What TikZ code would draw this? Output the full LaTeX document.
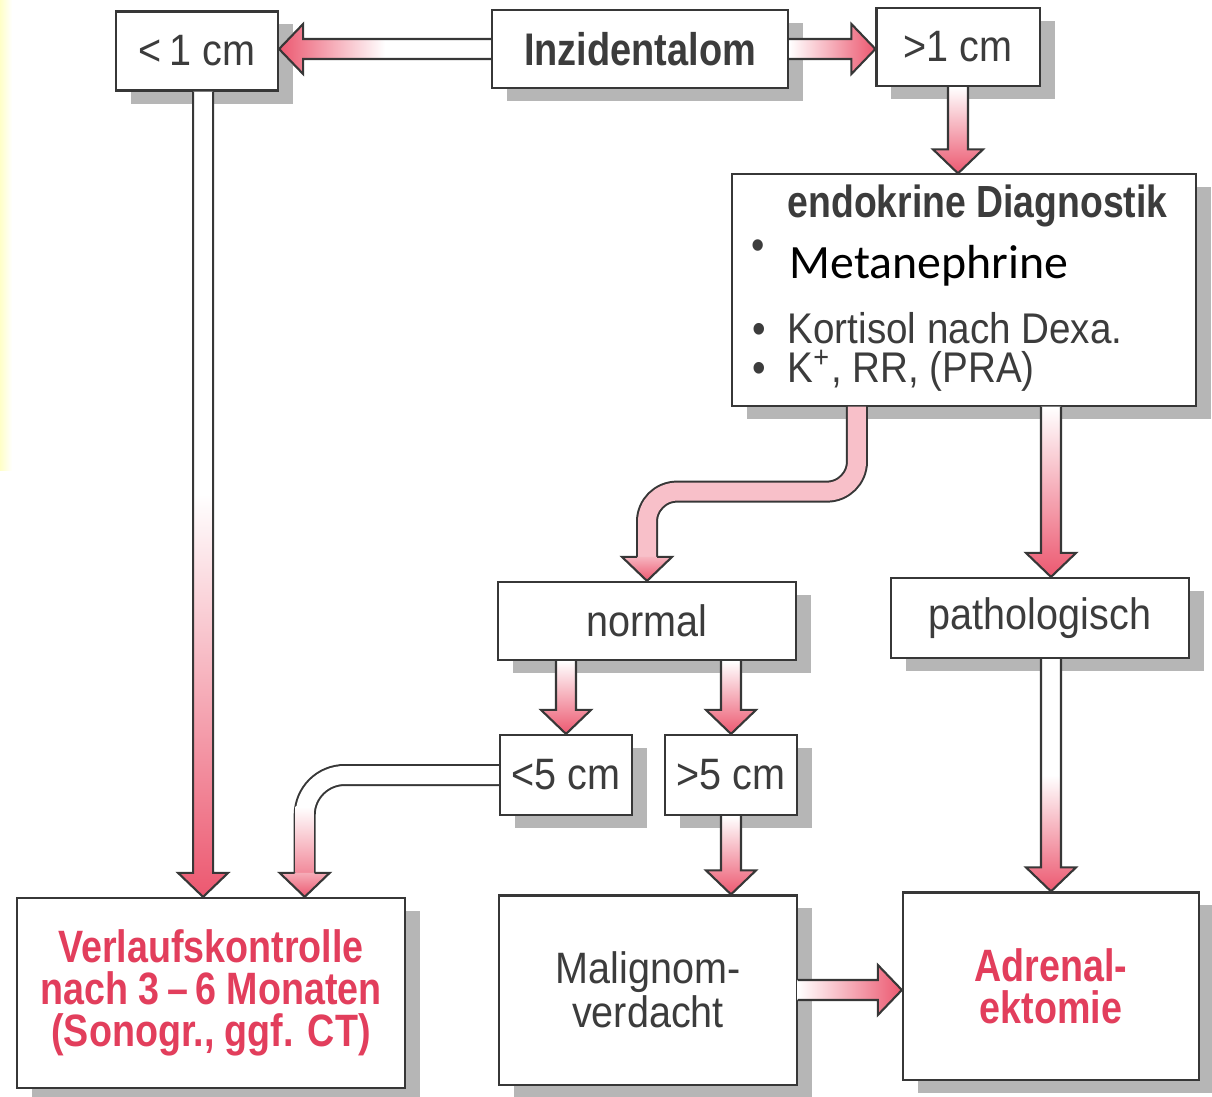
\documentclass[tikz,border=0pt]{standalone}
\usepackage{fontspec}
\setmainfont{Liberation Sans}[UprightFeatures={FakeStretch=0.9}, BoldFeatures={FakeStretch=0.83}]
\newfontfamily\calibfont{Carlito}
\usetikzlibrary{calc,shadows}

\definecolor{boxline}{RGB}{55,55,55}
\definecolor{txtgray}{RGB}{60,60,60}
\definecolor{txtred}{RGB}{226,62,92}
\definecolor{arrowred}{RGB}{236,88,112}
\definecolor{shadowgray}{RGB}{182,182,182}

\tikzset{
  box/.style={draw=boxline, line width=0.6pt, fill=white, inner sep=0pt,
    align=center, text=txtgray, font=\fontsize{12.5}{14}\selectfont,
    drop shadow={shadow xshift=0.15cm, shadow yshift=-0.13cm,
      fill=shadowgray, opacity=1}},
  redtext/.style={text=txtred, font=\fontsize{12.9}{12}\selectfont\bfseries},
  endotext/.style={anchor=base west, inner sep=0pt, text=txtgray, font=\fontsize{12.2}{14}\selectfont},
  fat/.style={draw=boxline, line width=0.6pt, line join=miter},
  tube/.style={line width=0.22cm, draw=boxline},
  tubein/.style={line width=0.18cm},
}

% fat arrow from #2 to #3, #1 = shading
\newcommand\fatarrow[3][]{%
  \coordinate (fa-a) at (#2);
  \coordinate (fa-b) at (#3);
  \coordinate (fa-c) at ($(fa-b)!0.24cm!(fa-a)$);
  \path[fat,#1] ($(fa-a)!0.1cm!90:(fa-b)$) -- ($(fa-c)!0.1cm!90:(fa-b)$)
    -- ($(fa-c)!0.25cm!90:(fa-b)$) -- (fa-b) -- ($(fa-c)!0.25cm!-90:(fa-b)$)
    -- ($(fa-c)!0.1cm!-90:(fa-b)$) -- ($(fa-a)!0.1cm!-90:(fa-b)$);
}
% head only, for the bent arrows
\newcommand\fathead[3][]{%
  \coordinate (fa-a) at (#2);
  \coordinate (fa-b) at (#3);
  \coordinate (fa-c) at ($(fa-b)!0.24cm!(fa-a)$);
  \path[fat,#1] ($(fa-c)!0.1cm!90:(fa-b)$) -- ($(fa-c)!0.25cm!90:(fa-b)$)
    -- (fa-b) -- ($(fa-c)!0.25cm!-90:(fa-b)$) -- ($(fa-c)!0.1cm!-90:(fa-b)$);
}

\begin{document}
\begin{tikzpicture}[x=0.01cm, y=-0.01cm]
  \useasboundingbox (0,0) rectangle (1212,1097);
  \shade[left color=yellow!22, right color=white] (0,0) rectangle (12,470);

  % boxes
  \node[box, minimum width=1.62cm, minimum height=0.79cm] (lt1) at (197,51) {<\,1 cm};
  \node[box, minimum width=2.96cm, minimum height=0.78cm, font=\fontsize{13}{14}\selectfont\bfseries] (inz) at (640,49) {Inzidentalom};
  \node[box, minimum width=1.63cm, minimum height=0.78cm] (gt1) at (958,47) {>1 cm};
  \node[box, minimum width=4.63cm, minimum height=2.31cm] (endo) at (964,290) {};
  \node[box, minimum width=2.98cm, minimum height=0.78cm] (norm) at (647,621) {normal};
  \node[box, minimum width=2.97cm, minimum height=0.80cm] (path) at (1040,618) {pathologisch};
  \node[box, minimum width=1.32cm, minimum height=0.80cm] (lt5) at (566,775) {<5 cm};
  \node[box, minimum width=1.32cm, minimum height=0.80cm] (gt5) at (731,775) {>5 cm};
  \node[box, minimum width=3.88cm, minimum height=1.90cm, redtext] (verl) at (211,993)
    {Verlaufskontrolle\\nach 3\,–\,6 Monaten\\(Sonogr., ggf. CT)};
  \node[box, minimum width=2.97cm, minimum height=1.89cm, font=\fontsize{12.5}{11.5}\selectfont] (malig) at (648,990)
    {Malignom-\\verdacht};
  \node[box, minimum width=2.96cm, minimum height=1.87cm, redtext] (adre) at (1051,986)
    {Adrenal-\\ektomie};

  % text in the endokrine box
  \node[endotext, font=\fontsize{12.8}{14}\selectfont\bfseries] (endoT) at (787,218) {endokrine Diagnostik};
  \node[text=txtgray, font=\fontsize{12}{14}\selectfont] (endoB) at (758,250) {•};
  \node[endotext, text=black, font=\calibfont\fontsize{13.6}{16}\selectfont] (endoM) at (789,278) {Metanephrine};
  \node[endotext, align=left, font=\fontsize{12.2}{11.1}\selectfont] (endoL) at (752,383)
    {\makebox[0.35cm][l]{•}Kortisol nach Dexa.\\\makebox[0.35cm][l]{•}K\textsuperscript{+}, RR, (PRA)};

  % straight arrows
  \coordinate (l0) at ($(lt1.south west)!0.537!(lt1.south east)$);
  \fatarrow[left color=arrowred, right color=white, middle color=white]{inz.west}{inz.west -| lt1.east}
  \fatarrow[left color=white, right color=arrowred]{inz.east}{inz.east -| gt1.west}
  \fatarrow[top color=white, bottom color=arrowred]{gt1.south}{gt1.south |- endo.north}
  \fatarrow[top color=white, bottom color=arrowred, middle color=white]{l0}{l0 |- verl.north}
  \fatarrow[top color=white, bottom color=arrowred]{adre.north |- endo.south}{adre.north |- path.north}
  \fatarrow[top color=white, bottom color=arrowred, middle color=white]{adre.north |- path.south}{adre.north}
  \fatarrow[top color=white, bottom color=arrowred]{lt5.north |- norm.south}{lt5.north}
  \fatarrow[top color=white, bottom color=arrowred]{gt5.north |- norm.south}{gt5.north}
  \fatarrow[top color=white, bottom color=arrowred]{gt5.south}{gt5.south |- malig.north}
  \fatarrow[left color=white, right color=arrowred]{malig.east}{malig.east -| adre.west}

  % bent arrow endokrine -> normal
  \coordinate (e0) at ($(endo.south west)!0.27!(endo.south east)$);
  \draw[tube, rounded corners=0.3cm, shorten >=0.24cm] (e0) -- ++(0,85) -| (norm.north);
  \draw[tubein, draw=arrowred!38, rounded corners=0.3cm, shorten >=0.24cm] (e0) -- ++(0,85) -| (norm.north);
  \fathead[top color=arrowred!45, bottom color=arrowred]{norm.north |- e0}{norm.north}

  % bent arrow <5 cm -> Verlaufskontrolle
  \coordinate (v0) at ($(verl.north west)!0.74!(verl.north east)$);
  \draw[tube, rounded corners=0.4cm, shorten >=0.24cm] (lt5.west) -| (v0);
  \draw[tubein, draw=white, rounded corners=0.4cm, shorten >=0.24cm] (lt5.west) -| (v0);
  \shade[top color=white, bottom color=arrowred!70] ($(v0)+(-9,-90)$) rectangle ($(v0)+(9,-24)$);
  \fathead[top color=arrowred!50, bottom color=arrowred]{v0 |- lt5.west}{v0}
\end{tikzpicture}
\end{document}
